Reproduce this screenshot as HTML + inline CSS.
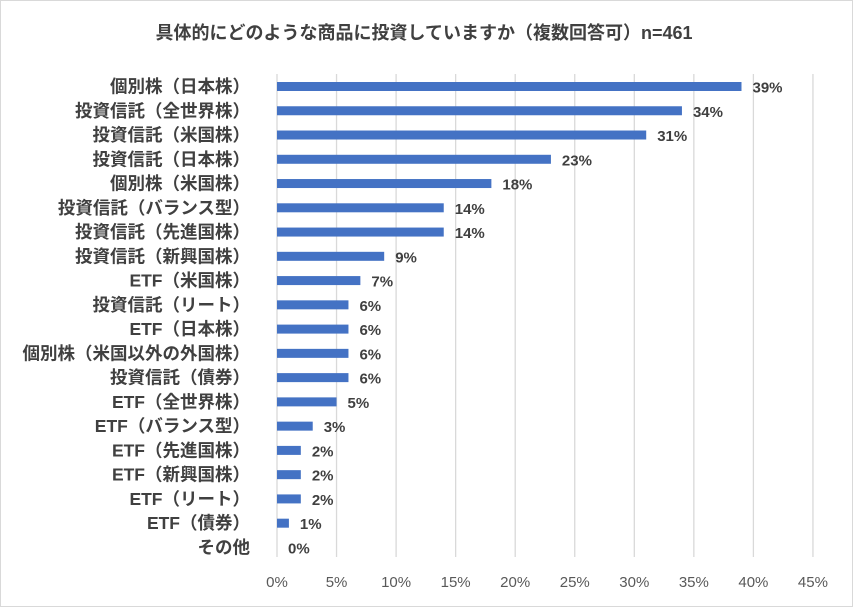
<!DOCTYPE html>
<html><head><meta charset="utf-8"><style>
html,body{margin:0;padding:0;background:#fff}
svg{display:block}
text{font-family:"Liberation Sans","Noto Sans CJK JP",sans-serif}
</style></head><body>
<svg id="chart" width="853" height="607">
<rect x="0.5" y="0.5" width="852" height="606" fill="#fff" stroke="#d9d9d9"/>
<text x="424" y="39" text-anchor="middle" font-size="18" font-weight="bold" fill="#404040">具体的にどのような商品に投資していますか（複数回答可）n=461</text>
<g id="grid"></g><g id="bars"></g><g id="labels"></g>
</svg>
<script>
const categories=["個別株（日本株）","投資信託（全世界株）","投資信託（米国株）","投資信託（日本株）","個別株（米国株）","投資信託（バランス型）","投資信託（先進国株）","投資信託（新興国株）","ETF（米国株）","投資信託（リート）","ETF（日本株）","個別株（米国以外の外国株）","投資信託（債券）","ETF（全世界株）","ETF（バランス型）","ETF（先進国株）","ETF（新興国株）","ETF（リート）","ETF（債券）","その他"];
const values=[39,34,31,23,18,14,14,9,7,6,6,6,6,5,3,2,2,2,1,0];
const ticks=[0,5,10,15,20,25,30,35,40,45];
const NS="http://www.w3.org/2000/svg";
const x0=277,pxPer=11.91,y0=86.5,step=24.26,bh=9;
const xs=v=>x0+v*pxPer, ys=i=>y0+i*step;
function mk(t,a,p){const e=document.createElementNS(NS,t);for(const k in a)e.setAttribute(k,a[k]);p.appendChild(e);return e;}
const grid=document.getElementById('grid'),bars=document.getElementById('bars'),labels=document.getElementById('labels');
ticks.forEach(t=>{
 const l=mk('line',{x1:xs(t),x2:xs(t),y1:74,y2:557,stroke:'#d9d9d9','stroke-width':1.3},grid);
 
 
 const tx=mk('text',{x:xs(t),y:587,'text-anchor':'middle','font-size':15,fill:'#595959'},grid);
 tx.textContent=t+'%';
 
 
});
categories.forEach((c,i)=>{
 const y=ys(i);
 const lb=mk('text',{x:250,y:y+6,'text-anchor':'end','font-size':17.5,'font-weight':'bold',fill:'#404040'},labels);
 lb.textContent=c;
 
 
 const b=mk('rect',{x:x0,y:y-bh/2,width:Math.max(0,xs(values[i])-x0),height:bh,fill:'#4472c4'},bars);
 
 
 const v=mk('text',{x:xs(values[i])+11,y:y+6,'font-size':15,'font-weight':'bold',fill:'#404040'},labels);
 v.textContent=values[i]+'%';
 
 
});
</script>
</body></html>
